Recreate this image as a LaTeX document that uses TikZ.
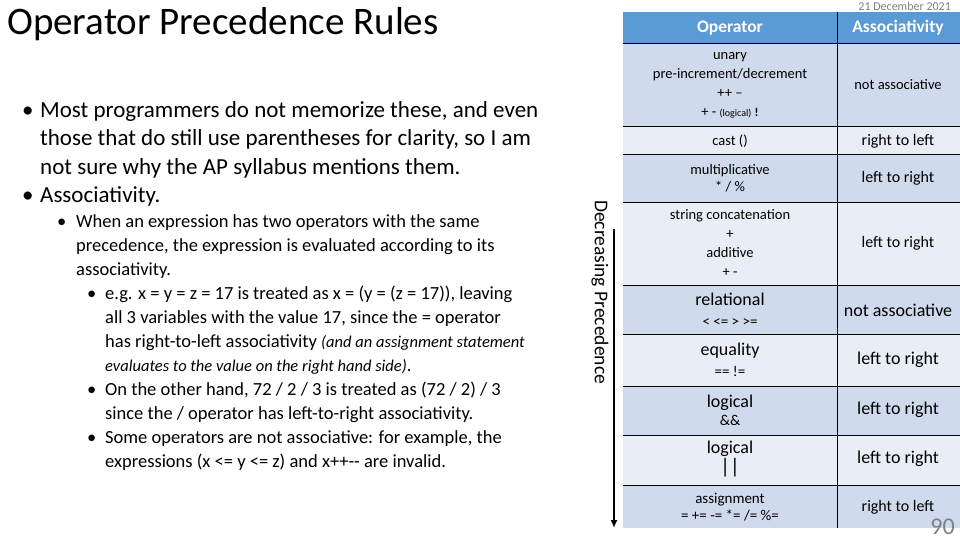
\documentclass[tikz,border=0pt]{standalone}
\usepackage{fontspec}
\usetikzlibrary{arrows.meta}
\setmainfont{Carlito}
\begin{document}
\begin{tikzpicture}[x=1pt,y=-1pt,
  txt/.style={anchor=north west,inner sep=0pt,align=left},
  cell/.style={align=center,inner sep=0pt,font=\fontsize{14.5}{17}\selectfont}]
\useasboundingbox (0,0) rectangle (960,540);
\node[txt,font=\fontsize{39}{40}\selectfont] (title) at (7,7) {Operator Precedence Rules};
\node[txt,font=\fontsize{23}{28.5}\selectfont] (b1) at (22,101)
 {\makebox[18pt][l]{•}Most programmers do not memorize these, and even\\
  \hspace*{18pt}those that do still use parentheses for clarity, so I am\\
  \hspace*{18pt}not sure why the AP syllabus mentions them.\\
  \makebox[18pt][l]{•}Associativity.};
\node[txt,font=\fontsize{18.5}{24}\selectfont] (b2) at (57,214)
 {\makebox[19pt][l]{•}When an expression has two operators with the same\\
  \hspace*{19pt}precedence, the expression is evaluated according to its\\
  \hspace*{19pt}associativity.\\
  \hspace*{30pt}\makebox[18pt][l]{•}e.g. x = y = z = 17 is treated as x = (y = (z = 17)), leaving\\
  \hspace*{48pt}all 3 variables with the value 17, since the = operator\\
  \hspace*{48pt}has right-to-left associativity {\fontsize{16.5}{24}\selectfont\itshape(and an assignment statement}\\
  \hspace*{48pt}{\fontsize{16.5}{24}\selectfont\itshape evaluates to the value on the right hand side)}.\\
  \hspace*{30pt}\makebox[18pt][l]{•}On the other hand, 72 / 2 / 3 is treated as (72 / 2) / 3\\
  \hspace*{48pt}since the / operator has left-to-right associativity.\\
  \hspace*{30pt}\makebox[18pt][l]{•}Some operators are not associative: for example, the\\
  \hspace*{48pt}expressions (x <= y <= z) and x++-{}- are invalid.};
% table
\definecolor{hdr}{HTML}{5B9BD5}
\definecolor{rowa}{HTML}{CFDAEC}
\definecolor{rowb}{HTML}{E9EEF6}
\fill[hdr] (623,12) rectangle (960,44);
\foreach \a/\b/\c in {44/127/rowa,127/155/rowb,155/202/rowa,202/285/rowb,285/334/rowa,334/386/rowb,386/435/rowa,435/485/rowb,485/528/rowa}
  \fill[\c] (623,\a) rectangle (960,\b);
\foreach \yy in {44,127,155,202,285,334,386,435,485}
  \draw[line width=1pt] (623,\yy) -- (960,\yy);
\draw[line width=1pt] (837,12) -- (837,528);
\node[font=\fontsize{12}{12}\selectfont,text=gray,anchor=east,inner sep=0pt] (date) at (951,6) {21 December 2021};
\node[cell,text=white,font=\bfseries\fontsize{17.5}{18}\selectfont] (h1) at (730,28) {Operator};
\node[cell,text=white,font=\bfseries\fontsize{17.5}{18}\selectfont] (h2) at (898,28) {Associativity};
\node[cell,font=\fontsize{14.5}{19}\selectfont] (o1) at (730,85) {unary\\pre-increment/decrement\\++ --\\+ - {\fontsize{10}{10}\selectfont(logical)} \textbf{\large !}};
\node[cell] (a1) at (898,85) {not associative};
\node[cell] (o2) at (730,141) {cast ()};
\node[cell,font=\fontsize{16}{17}\selectfont] (a2) at (898,141) {right to left};
\node[cell] (o3) at (730,178) {multiplicative\\* / \%};
\node[cell,font=\fontsize{16}{17}\selectfont] (a3) at (898,178) {left to right};
\node[cell,font=\fontsize{14.5}{19}\selectfont] (o4) at (730,243) {string concatenation\\+\\additive\\+ -};
\node[cell,font=\fontsize{16}{17}\selectfont] (a4) at (898,243) {left to right};
\node[cell,font=\fontsize{18}{21}\selectfont] (o5) at (730,310) {relational\\{\fontsize{15}{14}\selectfont < <= > >=}};
\node[cell,font=\fontsize{18}{18}\selectfont] (a5) at (898,310) {not associative};
\node[cell,font=\fontsize{18}{21}\selectfont] (o6) at (730,360) {equality\\{\fontsize{15}{14}\selectfont == !=}};
\node[cell,font=\fontsize{18}{18}\selectfont] (a6) at (898,360) {left to right};
\node[cell,font=\fontsize{18}{18}\selectfont] (o7) at (730,410) {logical\\{\fontsize{15}{14}\selectfont \&\&}};
\node[cell,font=\fontsize{18}{18}\selectfont] (a7) at (898,410) {left to right};
\node[cell,font=\fontsize{18}{20}\selectfont] (o8) at (730,459) {logical\\{\fontsize{21}{18}\selectfont||}};
\node[cell,font=\fontsize{18}{18}\selectfont] (a8) at (898,459) {left to right};
\node[cell,font=\fontsize{15}{17}\selectfont] (o9) at (730,507) {assignment\\= += -= *= /= \%=};
\node[cell,font=\fontsize{16}{17}\selectfont] (a9) at (898,507) {right to left};
\node[font=\fontsize{24}{24}\selectfont,text=gray,anchor=south east,inner sep=0pt] (pg) at (955,535) {90};
% arrow
\coordinate (ar1) at (614,229);
\coordinate (ar2) at (614,528);
\draw[line width=1.6pt,-{Latex[length=8pt,width=7pt]}] (ar1) -- (ar2);
\node[rotate=-90,font=\fontsize{19.5}{20}\selectfont] (dp) at (600,292) {Decreasing Precedence};
\end{tikzpicture}
\end{document}
